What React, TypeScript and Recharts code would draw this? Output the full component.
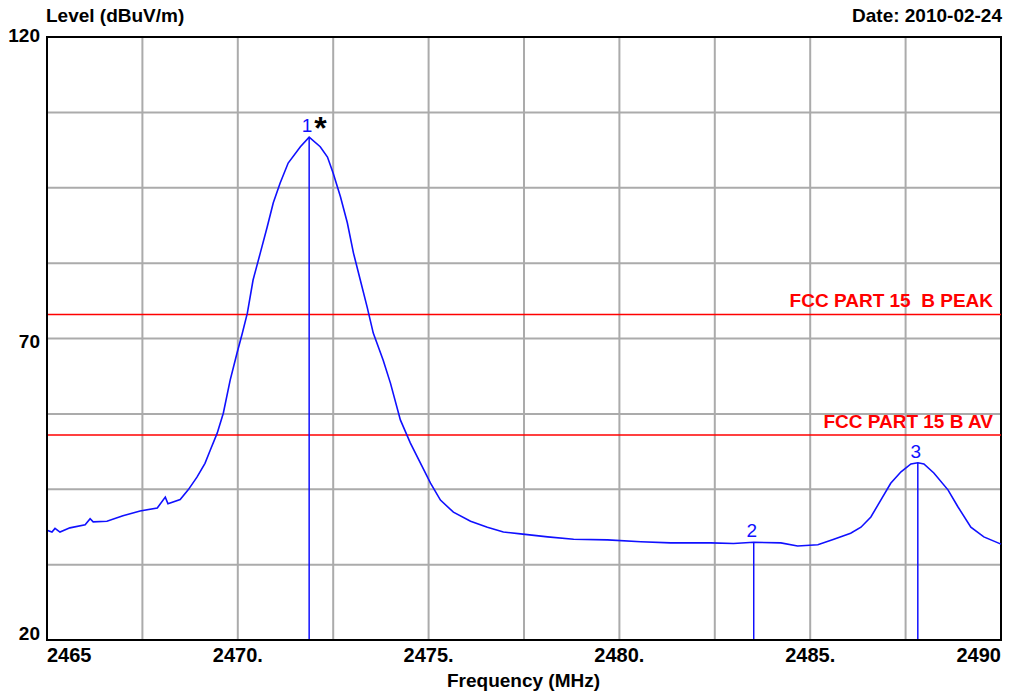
import React from 'react';
import { ComposedChart, Line, XAxis, YAxis, CartesianGrid, ReferenceLine, ReferenceDot, ReferenceArea } from 'recharts';

// trace
const FREQS = [
  2465.0, 2465.13, 2465.21, 2465.34, 2465.6, 2466.0, 2466.13, 2466.21, 2466.57, 2466.99,
  2467.44, 2467.89, 2468.1, 2468.17, 2468.49, 2468.7, 2468.93, 2469.14, 2469.28, 2469.46,
  2469.62, 2469.8, 2469.98, 2470.12, 2470.25, 2470.4, 2470.59, 2470.77, 2470.93, 2471.11,
  2471.32, 2471.64, 2471.87, 2472.16, 2472.35, 2472.5, 2472.69, 2472.87, 2473.03, 2473.21,
  2473.39, 2473.55, 2473.81, 2474.0, 2474.26, 2474.52, 2474.78, 2475.05, 2475.31, 2475.65,
  2476.1, 2476.54, 2476.96, 2477.41, 2478.12, 2478.8, 2479.69, 2480.56, 2481.34, 2482.39,
  2482.99, 2483.52, 2484.23, 2484.67, 2485.2, 2485.62, 2486.06, 2486.33, 2486.59, 2486.85,
  2487.11, 2487.38, 2487.64, 2487.82, 2487.98, 2488.24, 2488.61, 2488.87, 2489.21, 2489.55,
  2490.0,
];
const LEVELS = [
  38.2, 37.9, 38.5, 37.9, 38.6, 39.1, 40.1, 39.6, 39.7, 40.6,
  41.4, 41.9, 43.7, 42.6, 43.3, 44.9, 47.0, 49.3, 51.5, 54.3,
  57.6, 63.1, 67.6, 70.9, 74.2, 79.7, 84.2, 88.5, 92.5, 95.8,
  99.1, 101.8, 103.4, 101.8, 100.1, 97.4, 93.5, 89.2, 84.2, 79.7,
  75.2, 70.9, 66.4, 62.6, 56.5, 52.7, 49.4, 46.0, 43.2, 41.2,
  39.7, 38.7, 37.9, 37.6, 37.1, 36.7, 36.6, 36.3, 36.1, 36.1,
  36.0, 36.2, 36.1, 35.6, 35.8, 36.7, 37.7, 38.7, 40.4, 43.2,
  46.0, 47.9, 49.2, 49.4, 49.2, 47.7, 44.9, 42.1, 38.7, 37.1,
  35.9,
];

const MARKER_IDS = ['1', '2', '3'];
const MARKER_FREQS = [2471.87, 2483.52, 2487.82];
const MARKER_LEVELS = [103.4, 36.2, 49.4];

const LIMIT_NAMES = ['FCC PART 15  B PEAK', 'FCC PART 15 B AV'];
const LIMIT_LEVELS = [74, 54];

const X_TICKS = [2465, 2467.5, 2470, 2472.5, 2475, 2477.5, 2480, 2482.5, 2485, 2487.5, 2490];
const X_LABELS: { [k: string]: string } = { '2465': '2465', '2470': '2470.', '2475': '2475.', '2480': '2480.', '2485': '2485.', '2490': '2490' };
const Y_TICKS = [20, 32.5, 45, 57.5, 70, 82.5, 95, 107.5, 120];
const Y_LABELS: { [k: string]: string } = { '20': '20', '70': '70', '120': '120' };

const data = FREQS.map((f, i) => ({ freq: f, level: LEVELS[i] }));

const FONT = '"Liberation Sans", Arial, sans-serif';

const XTick = ({ x, payload }: any) => {
  const v = payload.value;
  const label = X_LABELS[String(v)];
  if (!label) return null;
  const anchor = v === 2465 ? 'start' : v === 2490 ? 'end' : 'middle';
  return (
    <text x={x} y={662} textAnchor={anchor} fontFamily={FONT} fontWeight="bold" fontSize={20} fill="#000">
      {label}
    </text>
  );
};

const YTick = ({ y, payload }: any) => {
  const v = payload.value;
  const label = Y_LABELS[String(v)];
  if (!label) return null;
  const dy = v === 120 ? 5 : v === 20 ? 0 : 9;
  return (
    <text x={40} y={y + dy} textAnchor="end" fontFamily={FONT} fontWeight="bold" fontSize={19} fill="#000">
      {label}
    </text>
  );
};

const LimitLabel = ({ viewBox, value }: any) => (
  <text
    x={viewBox.x + viewBox.width - 8}
    y={viewBox.y - 7}
    textAnchor="end"
    fontFamily={FONT}
    fontWeight="bold"
    fontSize={19}
    fill="#ff0000"
    style={{ whiteSpace: 'pre' }}
  >
    {value}
  </text>
);

export default function App() {
  return (
    <div style={{ position: 'absolute', left: 0, top: 0, width: 1020, height: 695, background: '#fff' }}>
      <ComposedChart width={1020} height={695} data={data} margin={{ top: 37, right: 19, bottom: 25, left: 7 }}>
        <CartesianGrid stroke="#ababab" strokeWidth={2} />
        <XAxis
          dataKey="freq"
          type="number"
          domain={[2465, 2490]}
          ticks={X_TICKS}
          tick={<XTick />}
          tickLine={false}
          axisLine={{ stroke: '#000', strokeWidth: 2 }}
          height={30}
          interval={0}
        />
        <YAxis
          type="number"
          domain={[20, 120]}
          ticks={Y_TICKS}
          tick={<YTick />}
          tickLine={false}
          axisLine={{ stroke: '#000', strokeWidth: 2 }}
          width={40}
          interval={0}
        />
        <ReferenceArea x1={2465} x2={2490} y1={20} y2={120} fill="none" stroke="#000" strokeWidth={2} />
        {LIMIT_LEVELS.map((lv, i) => (
          <ReferenceLine
            key={LIMIT_NAMES[i]}
            y={lv}
            stroke="#ff0000"
            strokeWidth={1.5}
            label={<LimitLabel value={LIMIT_NAMES[i]} />}
          />
        ))}
        {MARKER_FREQS.map((f, i) => (
          <ReferenceLine
            key={'m' + i}
            segment={[{ x: f, y: 20 }, { x: f, y: MARKER_LEVELS[i] }]}
            stroke="#1010ff"
            strokeWidth={1.5}
          />
        ))}
        <Line
          dataKey="level"
          type="linear"
          stroke="#1010ff"
          strokeWidth={1.6}
          dot={false}
          isAnimationActive={false}
        />
        {MARKER_FREQS.map((f, i) => (
          <ReferenceDot
            key={'l' + i}
            x={f}
            y={MARKER_LEVELS[i]}
            r={0}
            shape={(p: any) => (
              <g>
                <text x={p.cx - 2} y={p.cy - 5} textAnchor="middle" fontFamily={FONT} fontSize={19} fill="#1010ff">
                  {MARKER_IDS[i]}
                </text>
                {i === 0 ? (
                  <text x={p.cx + 5} y={p.cy + 2} fontFamily={FONT} fontWeight="bold" fontSize={32} fill="#000">
                    *
                  </text>
                ) : null}
              </g>
            )}
          />
        ))}
      </ComposedChart>
      <div style={{ position: 'absolute', left: 46, top: 5, fontFamily: FONT, fontWeight: 'bold', fontSize: 19, lineHeight: '22px' }}>
        Level (dBuV/m)
      </div>
      <div style={{ position: 'absolute', right: 18, top: 5, fontFamily: FONT, fontWeight: 'bold', fontSize: 19, lineHeight: '22px' }}>
        Date: 2010-02-24
      </div>
      <div style={{ position: 'absolute', left: 0, width: 1047, top: 670, textAlign: 'center', fontFamily: FONT, fontWeight: 'bold', fontSize: 19, lineHeight: '22px' }}>
        Frequency (MHz)
      </div>
    </div>
  );
}
